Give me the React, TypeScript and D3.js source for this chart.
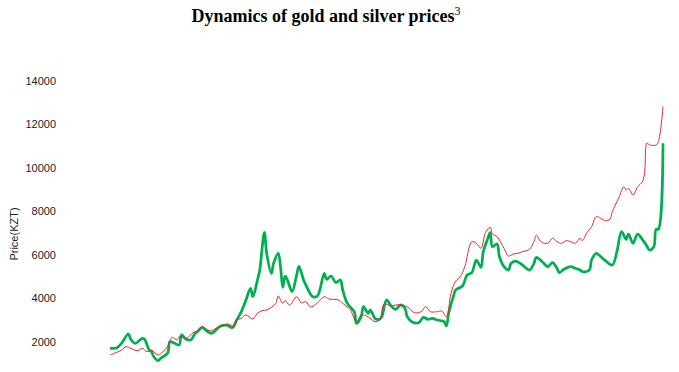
import React from "react";
import * as d3 from "d3";

const W = 679;
const H = 372;

const yTicks = [2000, 4000, 6000, 8000, 10000, 12000, 14000];

// month index (0..240) of each observation
const goldMonths = [0,2,5,7,9,12,14,16,18,20,21,23,25,27,29,30,33,34,36,38,40,42,44,46,49,51,54,55,57,59,62,64,66,68,70,72,73,75,76,78,81,83,85,87,90,93,95,99,101,103,104,107,109,112,115,117,119,122,124,127,130,132,135,137,139,142,144,146,148,150,152,154,157,159,161,163,165,166,168,171,173,175,177,179,182,184,185,187,190,192,194,196,198,200,202,204,205,207,209,211,213,215,217,218,220,221,223,224,225,227,229,231,232,233,234,237,238,240];
const goldPrices = [1402,1480,1632,1784,1710,1600,1710,1554,1632,1448,1402,1554,1784,2216,2092,2244,2170,2216,2428,2520,2703,2584,2520,2630,2736,2828,2703,3011,3090,3241,3057,3320,3439,3471,3595,3779,4115,3779,3899,3701,4083,3807,3853,3609,3793,4083,3977,3940,3779,3609,3549,2933,3241,3163,2933,3011,3747,3655,3701,3701,3549,3347,3393,3623,3393,3393,3425,3163,4239,4795,5002,5471,6611,6538,6308,7034,7273,6965,6841,6308,5954,6046,6078,6152,6262,6611,6920,6611,6538,6768,6611,6538,6657,6611,6538,6768,6657,7034,7301,7761,7687,7577,7646,7991,8451,8681,9140,8988,9067,8759,9140,9356,9756,11149,11067,11057,11209,12818];

const silverMonths = [0,3,5,8,9,11,14,15,17,18,19,21,22,25,26,28,30,31,33,35,37,38,40,42,44,46,48,51,53,55,57,59,61,62,64,65,67,68,70,71,73,74,75,76,77,79,81,82,84,85,88,90,93,94,96,98,100,101,103,106,107,109,110,112,113,115,117,118,120,122,124,126,128,129,131,134,136,138,140,142,145,146,147,149,150,153,155,157,159,161,162,164,165,166,168,169,171,173,174,176,179,182,184,185,188,190,192,194,195,197,200,202,204,205,208,209,211,213,215,218,220,222,224,225,227,229,231,233,234,236,237,238,240];
const silverPrices = [1710,1738,1940,2368,2124,1940,2170,2124,1632,1554,1324,1140,1251,1480,2014,1940,1862,2322,2124,2092,2400,2474,2676,2506,2400,2552,2736,2768,2657,3011,3393,3931,4469,4083,4851,5310,7044,6078,5159,5618,6078,5462,4515,5034,4851,4313,5080,5480,4851,4621,4083,4115,5159,4883,5034,4736,4851,4391,3779,3393,2860,3163,3623,3320,3471,3090,3044,3163,3931,3655,3503,3701,3549,3163,2933,2887,3136,3044,3090,3011,2933,2736,3320,4083,4391,4575,5080,5186,5770,5434,6152,6768,7025,6382,6506,5922,5462,5310,5618,5724,5540,5310,5618,5894,5646,5462,5646,5389,5186,5342,5462,5389,5310,5232,5310,5770,6078,5922,5738,5540,6152,7071,6722,6965,6538,6965,6722,6414,6230,6382,7182,7182,11136];

const x = d3.scaleLinear().domain([0, 240]).range([110, 663]);
const y = d3.scaleLinear().domain([0, 14000]).range([385.5, 81]);

const line = d3
  .line<[number, number]>()
  .x((d) => x(d[0]))
  .y((d) => y(d[1]))
  .curve(d3.curveCatmullRom.alpha(0.5));

const goldData: [number, number][] = goldMonths.map((m, i) => [m, goldPrices[i]]);
const silverData: [number, number][] = silverMonths.map((m, i) => [m, silverPrices[i]]);

export default function App() {
  return (
    <svg
      width={W}
      height={H}
      style={{ position: "absolute", left: 0, top: 0, background: "#fff" }}
    >
      <text
        x={326}
        y={22}
        textAnchor="middle"
        fontFamily="'Liberation Serif', 'Times New Roman', serif"
        fontWeight="bold"
        fontSize={18}
        fill="#000"
      >
        Dynamics of gold and silver prices
        <tspan fontSize={12} fontWeight="normal" dy={-7}>3</tspan>
      </text>

      {yTicks.map((t) => (
        <text
          key={t}
          x={56}
          y={y(t)}
          dy="0.35em"
          textAnchor="end"
          fontFamily="'Liberation Sans', Arial, sans-serif"
          fontSize={11}
          fill="#222"
        >
          {t}
        </text>
      ))}

      <text
        transform={`translate(18,234) rotate(-90)`}
        textAnchor="middle"
        fontFamily="'Liberation Sans', Arial, sans-serif"
        fontSize={11}
        fill="#222"
      >
        Price(KZT)
      </text>

      <path d={line(silverData) || ""} fill="none" stroke="#00B050" strokeWidth={2.75} strokeLinejoin="round" />
      <path d={line(goldData) || ""} fill="none" stroke="#E8262B" strokeWidth={1} strokeLinejoin="round" />
    </svg>
  );
}
